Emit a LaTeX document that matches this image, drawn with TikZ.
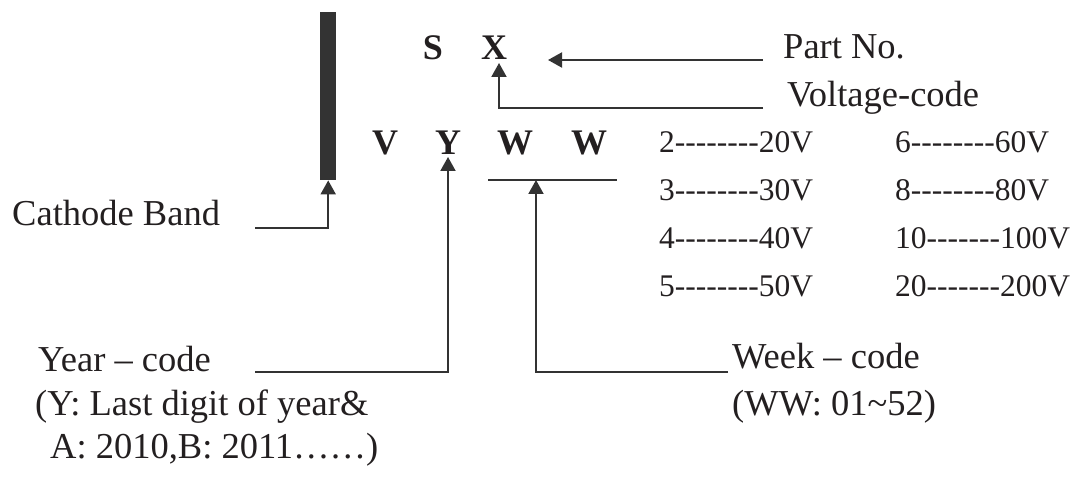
\documentclass[tikz,border=0pt]{standalone}
\usepackage{fontspec}
\setmainfont{Liberation Serif}
\usetikzlibrary{arrows.meta}
\definecolor{ink}{HTML}{231F20}
\definecolor{linec}{HTML}{333333}
\newcommand\hy{\mbox{-}}
\newcommand\hyE{\hy\hy\hy\hy\hy\hy\hy\hy}
\newcommand\hyS{\hy\hy\hy\hy\hy\hy\hy}
\tikzset{
  lbl/.style={inner sep=0pt, anchor=base west, text=ink, font=\fontsize{36.5}{40}\selectfont},
  tbl/.style={inner sep=0pt, anchor=base west, text=ink, font=\fontsize{31.5}{36}\selectfont},
  code/.style={inner sep=0pt, anchor=base, text=ink, font=\fontsize{36}{40}\selectfont\bfseries},
  ln/.style={draw=linec, line width=2pt},
  arr/.style={ln, -{Triangle[length=14pt,width=15pt]}},
}
\begin{document}
\begin{tikzpicture}[x=1pt,y=-1pt]
\useasboundingbox (0,0) rectangle (1078,478);
% cathode band bar
\node[fill=linec, inner sep=0pt, minimum width=16pt, minimum height=168pt, anchor=north west] (bar) at (320,12) {};
% code letters
\node[code] (S) at (433,60) {S};
\node[code] (X) at (494,60) {X};
\node[code] (V) at (385,155) {V};
\node[code] (Y) at (448,155) {Y};
\node[code] (W1) at (515,155) {W};
\node[code] (W2) at (589,155) {W};
% labels
\node[lbl] (partno) at (783,59) {Part No.};
\node[lbl] (volt) at (787,107) {Voltage-code};
\node[lbl] (cath) at (12,226) {Cathode Band};
\node[lbl] (yearc) at (38,371) {Year – code};
\node[lbl] (yeard1) at (35,415) {(Y: Last digit of year\&};
\node[lbl] (yeard2) at (50,458) {A: 2010,B: 2011……)};
\node[lbl] (week) at (732,368) {Week – code};
\node[lbl] (weekd) at (732,415) {(WW: 01\textasciitilde52)};
% voltage table
\node[tbl] (t1) at (659,153) {2\hyE20V};
\node[tbl] (t2) at (659,201) {3\hyE30V};
\node[tbl] (t3) at (659,248) {4\hyE40V};
\node[tbl] (t4) at (659,296) {5\hyE50V};
\node[tbl] (t5) at (895,153) {6\hyE60V};
\node[tbl] (t6) at (895,201) {8\hyE80V};
\node[tbl] (t7) at (895,248) {10\hyS100V};
\node[tbl] (t8) at (895,296) {20\hyS200V};
% connector coordinates
\coordinate (pnR) at (763,60);
\coordinate (pnTip) at (548,60);
\coordinate (vR) at (763,108);
\coordinate (xTip) at (499,63);
\coordinate (cL) at (255,228);
\coordinate (yL) at (255,372);
\coordinate (yTip) at (448,157);
\coordinate (ul1) at (488,180);
\coordinate (ul2) at (617,180);
\coordinate (ulm) at (536,180);
\coordinate (wR) at (728,372);
% connectors
\draw[arr] (pnR) -- (pnTip);
\draw[arr] (vR) -| (xTip);
\draw[arr] (cL) -| (bar.south);
\draw[arr] (yL) -| (yTip);
\draw[ln] (ul1) -- (ul2);
\draw[arr] (wR) -| (ulm);
\end{tikzpicture}
\end{document}
